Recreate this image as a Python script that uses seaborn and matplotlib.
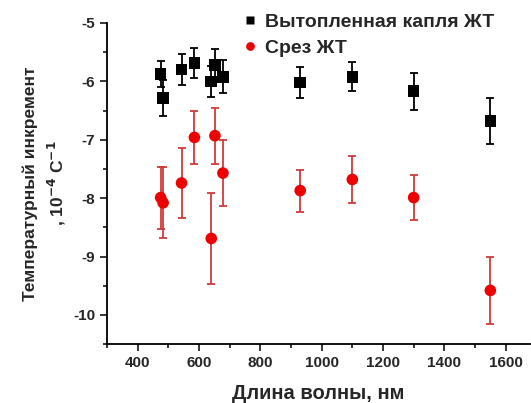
import matplotlib
matplotlib.use("Agg")
import matplotlib.pyplot as plt
import seaborn as sns
import pandas as pd
from matplotlib.ticker import MultipleLocator

sns.set_theme(style="ticks")
plt.rcParams['font.family'] = ['Liberation Sans', 'DejaVu Sans']
plt.rcParams['font.weight'] = 'bold'
plt.rcParams['axes.unicode_minus'] = False

# Вытопленная капля ЖТ
wl_drop = [475, 483, 543, 585, 640, 652, 678, 930, 1100, 1300, 1550]
val_drop = [-5.87, -6.28, -5.80, -5.69, -6.00, -5.72, -5.92, -6.02, -5.92, -6.17, -6.68]
err_drop = [0.22, 0.31, 0.27, 0.26, 0.27, 0.27, 0.28, 0.27, 0.25, 0.32, 0.40]

# Срез ЖТ
wl_cut = [475, 483, 543, 585, 640, 652, 678, 930, 1100, 1300, 1550]
val_cut = [-7.99, -8.08, -7.74, -6.96, -8.69, -6.93, -7.57, -7.87, -7.68, -7.99, -9.58]
err_cut = [0.53, 0.61, 0.60, 0.45, 0.78, 0.48, 0.57, 0.36, 0.40, 0.39, 0.57]

label_drop = "Вытопленная капля ЖТ"
label_cut = "Срез ЖТ"

df = pd.concat([
    pd.DataFrame({"wl": wl_drop, "val": val_drop, "err": err_drop, "s": label_drop}),
    pd.DataFrame({"wl": wl_cut, "val": val_cut, "err": err_cut, "s": label_cut}),
], ignore_index=True)

fig = plt.figure(figsize=(5.31, 4.03), dpi=100)
ax = fig.add_axes([0.2015, 0.146, 0.797, 0.797])

ax.errorbar(wl_drop, val_drop, yerr=err_drop, fmt='none', ecolor='black',
            elinewidth=1.3, capsize=3, capthick=1.3, zorder=2)
ax.errorbar(wl_cut, val_cut, yerr=err_cut, fmt='none', ecolor='#d23a3a',
            elinewidth=1.3, capsize=3, capthick=1.3, zorder=2)

sns.scatterplot(data=df, x="wl", y="val", hue="s", style="s",
                palette={label_drop: "black", label_cut: "#ee0000"},
                markers={label_drop: "s", label_cut: "o"},
                s=70, edgecolor='none', ax=ax, zorder=3)

ax.set_xlim(300, 1680)
ax.set_ylim(-10.5, -5)
ax.xaxis.set_major_locator(MultipleLocator(200))
ax.xaxis.set_minor_locator(MultipleLocator(100))
ax.yaxis.set_major_locator(MultipleLocator(1))
ax.yaxis.set_minor_locator(MultipleLocator(0.5))
ax.tick_params(axis='both', which='major', length=5, width=1.3, labelsize=11, direction='out')
ax.tick_params(axis='both', which='minor', length=3, width=1.3, direction='out')
for lab in ax.get_xticklabels() + ax.get_yticklabels():
    lab.set_fontweight('bold')
sns.despine(ax=ax)
for sp in ['left', 'bottom']:
    ax.spines[sp].set_linewidth(1.3)
    ax.spines[sp].set_color('black')

ax.set_xlabel("Длина волны, нм", fontsize=14.5, fontweight='bold', labelpad=10)
ax.set_ylabel("Температурный инкремент\n, 10$^{\\mathbf{-4}}$ С$^{\\mathbf{-1}}$",
              fontsize=12.5, fontweight='bold', linespacing=1.4)

leg = ax.legend(loc='upper left', bbox_to_anchor=(0.3, 1.055), frameon=False,
                fontsize=14, handlelength=0.8, handletextpad=0.4, borderaxespad=0,
                labelspacing=0.45, markerscale=0.75)
for t in leg.get_texts():
    t.set_fontweight('bold')

fig.savefig("out.png", dpi=100)
